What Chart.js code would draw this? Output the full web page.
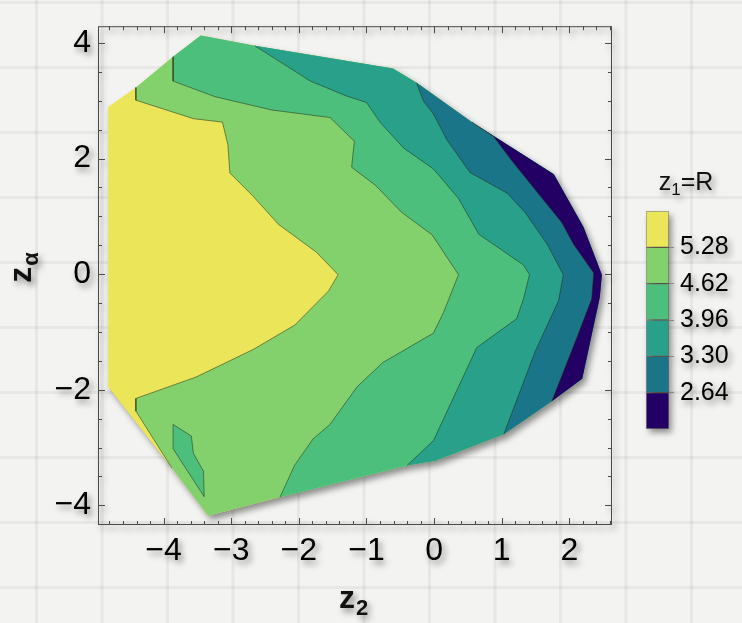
<!DOCTYPE html>
<html>
<head>
<meta charset="utf-8">
<title>z1 = R contour plot</title>
<script src="https://cdn.jsdelivr.net/npm/chart.js@4.4.1/dist/chart.umd.min.js"></script>
<style>
  html, body { margin: 0; padding: 0; }
  body {
    width: 742px;
    height: 623px;
    overflow: hidden;
    position: relative;
    background-color: #f3f3f1;
    background-image:
      linear-gradient(90deg, rgba(0,0,0,0.05) 3px, transparent 3px),
      linear-gradient(rgba(0,0,0,0.05) 3px, transparent 3px);
    background-size: 65.5px 65px;
    background-position: 35px 1px;
  }
  canvas {
    position: absolute;
    filter: drop-shadow(3px 4px 3px rgba(0,0,0,0.42));
  }
  #contour { left: 0; top: 0; }
  #colorbar { left: 620px; top: 150px; }
</style>
</head>
<body>
<canvas id="contour" width="742" height="623"></canvas>
<canvas id="colorbar" width="122" height="300"></canvas>
<script>
// Axis ranges and labelled ticks
const xRange = [-4.97, 2.63];
const yRange = [-4.34, 4.29];
const xTicks = [-4, -3, -2, -1, 0, 1, 2];
const yTicks = [-4, -2, 0, 2, 4];

// Contour levels of z1 = R, lowest first
const levels = [2.64, 3.30, 3.96, 4.62, 5.28];
// one colour per band, lowest band first (below 2.64 ... above 5.28)
const bandColors = ['#220064', '#1b7588', '#28a08a', '#4cbf7c', '#83d16d', '#ebe559'];

// Outline of the sampled region (z2, z_alpha), clockwise from upper left
const hull = [
  [-4.82, 2.89], [-4.41, 3.23], [-3.86, 3.76], [-3.45, 4.13], [-2.65, 3.95],
  [-0.61, 3.56], [-0.26, 3.31], [0.56, 2.63], [1.77, 1.73], [2.21, 0.81],
  [2.48, -0.01], [2.45, -0.40], [2.19, -1.81], [1.74, -2.20], [1.03, -2.77],
  [0.02, -3.23], [-0.40, -3.31], [-2.28, -3.86], [-3.34, -4.18], [-3.88, -3.35],
  [-4.82, -1.95]
];

// Contour lines, top to bottom (inner vertices only; ends sit on the hull)
const contour528 = [
  [-4.41, 3.01], [-3.56, 2.69], [-3.13, 2.63], [-3.05, 2.24], [-3.02, 1.75],
  [-2.67, 1.34], [-2.30, 0.86], [-1.74, 0.38], [-1.42, -0.01], [-1.56, -0.29],
  [-2.06, -0.88], [-2.67, -1.30], [-3.52, -1.78], [-4.41, -2.15], [-4.41, -2.37]
];
const contour462 = [
  [-3.86, 3.34], [-3.24, 3.07], [-2.40, 2.84], [-1.54, 2.71], [-1.18, 2.30],
  [-1.22, 1.85], [-0.87, 1.54], [-0.48, 1.07], [-0.03, 0.68], [0.36, -0.01],
  [0.14, -0.66], [-0.01, -1.02], [-0.76, -1.53], [-1.14, -1.95], [-1.54, -2.60],
  [-1.79, -2.85], [-2.06, -3.30]
];
const contour396 = [
  [-1.83, 3.34], [-1.29, 3.08], [-1.00, 2.97], [-0.80, 2.63], [-0.45, 2.18],
  [-0.01, 1.82], [0.36, 1.31], [0.66, 0.69], [1.32, 0.16], [1.41, -0.01],
  [1.32, -0.43], [1.22, -0.77], [0.63, -1.27], [-0.01, -2.88]
];
const contour330 = [
  [-0.16, 3.00], [-0.01, 2.77], [0.19, 2.32], [0.53, 1.76], [1.08, 1.40],
  [1.35, 1.06], [1.67, 0.52], [1.91, -0.01], [1.84, -0.46], [1.50, -1.32]
];
const contour264 = [
  [0.88, 2.38], [1.17, 1.93], [1.89, 0.89], [2.06, 0.52], [2.36, 0.02],
  [2.33, -0.43], [2.09, -1.16]
];
// small pocket of the 3.96-4.62 band inside the 4.62-5.28 band
const island462 = [
  [-3.86, -2.60], [-3.59, -2.80], [-3.56, -3.10], [-3.41, -3.41], [-3.40, -3.85], [-3.86, -3.02]
];

// hull index where each contour starts and ends
const ends528 = [1, 19];
const ends462 = [2, 17];
const ends396 = [4, 16];
const ends330 = [6, 14];
const ends264 = [7, 13];

const FONT = "'Liberation Sans', Arial, sans-serif";
Chart.defaults.font.family = FONT;

const pt = ([x, y]) => ({ x, y });

function contourLine(inner, [s, e]) {
  return [hull[s], ...inner, hull[e]].map(pt);
}

// everything on the right of a contour = the band at or below that level
function bandBelow(inner, [s, e]) {
  const ring = [hull[s], ...inner];
  for (let i = e; i > s; i--) ring.push(hull[i]);
  ring.push(hull[s]);
  return ring.map(pt);
}

const fillSet = (data, color, order) => ({
  data, backgroundColor: color, borderWidth: 0, fill: 'shape', order
});
const lineSet = (data) => ({
  data, borderColor: 'rgba(35,35,10,0.5)', borderWidth: 1, fill: false, order: 0
});

const fmt = v => (v < 0 ? '\u2212' + Math.abs(v) : String(v));

function subText(ctx, base, sub, x, y, size, weight) {
  const subSize = Math.round(size * 0.68);
  ctx.font = `${weight} ${size}px ${FONT}`;
  const w1 = ctx.measureText(base).width;
  ctx.font = `${weight} ${subSize}px ${FONT}`;
  const w2 = ctx.measureText(sub).width;
  const left = x - (w1 + w2) / 2;
  ctx.textAlign = 'left';
  ctx.textBaseline = 'alphabetic';
  ctx.font = `${weight} ${size}px ${FONT}`;
  ctx.fillText(base, left, y);
  ctx.font = `${weight} ${subSize}px ${FONT}`;
  ctx.fillText(sub, left + w1 + 1, y + size * 0.22);
}

// Mathematica style frame: inward ticks on all four sides, axis titles
const framePlugin = {
  id: 'frame',
  afterDraw(chart) {
    const { ctx, chartArea: a, scales: { x, y } } = chart;
    ctx.save();
    ctx.strokeStyle = '#4a4a4a';
    ctx.lineWidth = 1;
    ctx.strokeRect(a.left + 0.5, a.top + 0.5, a.width - 1, a.height - 1);

    ctx.beginPath();
    for (let i = Math.ceil(x.min * 5); i <= Math.floor(x.max * 5); i++) {
      const len = i % 5 === 0 ? 7 : 4;
      const px = Math.round(x.getPixelForValue(i / 5)) + 0.5;
      ctx.moveTo(px, a.bottom); ctx.lineTo(px, a.bottom - len);
      ctx.moveTo(px, a.top); ctx.lineTo(px, a.top + len);
    }
    for (let i = Math.ceil(y.min * 2); i <= Math.floor(y.max * 2); i++) {
      const len = i % 4 === 0 ? 7 : 4;
      const py = Math.round(y.getPixelForValue(i / 2)) + 0.5;
      ctx.moveTo(a.left, py); ctx.lineTo(a.left + len, py);
      ctx.moveTo(a.right, py); ctx.lineTo(a.right - len, py);
    }
    ctx.stroke();

    ctx.fillStyle = '#111';
    subText(ctx, 'z', '2', 353, 608, 32, 'bold');
    ctx.translate(31, 268);
    ctx.rotate(-Math.PI / 2);
    subText(ctx, 'z', '\u03b1', 0, 0, 32, 'bold');
    ctx.restore();
  }
};

new Chart(document.getElementById('contour'), {
  type: 'line',
  data: {
    datasets: [
      fillSet(hull.concat([hull[0]]).map(pt), bandColors[5], 10),
      fillSet(bandBelow(contour528, ends528), bandColors[4], 9),
      fillSet(bandBelow(contour462, ends462), bandColors[3], 8),
      fillSet(island462.concat([island462[0]]).map(pt), bandColors[3], 7),
      fillSet(bandBelow(contour396, ends396), bandColors[2], 6),
      fillSet(bandBelow(contour330, ends330), bandColors[1], 5),
      fillSet(bandBelow(contour264, ends264), bandColors[0], 4),
      lineSet(contourLine(contour528, ends528)),
      lineSet(contourLine(contour462, ends462)),
      lineSet(island462.concat([island462[0]]).map(pt)),
      lineSet(contourLine(contour396, ends396)),
      lineSet(contourLine(contour330, ends330)),
      lineSet(contourLine(contour264, ends264))
    ]
  },
  options: {
    responsive: false,
    animation: false,
    events: [],
    layout: { padding: { top: 13, right: 130, bottom: 0, left: 0 } },
    elements: { point: { radius: 0, hitRadius: 0 }, line: { tension: 0 } },
    plugins: { legend: { display: false }, tooltip: { enabled: false } },
    scales: {
      x: {
        type: 'linear',
        min: xRange[0],
        max: xRange[1],
        afterFit: s => { s.height = 98; },
        afterBuildTicks: s => { s.ticks = xTicks.map(v => ({ value: v })); },
        grid: { display: false, drawTicks: false },
        border: { display: false },
        ticks: { padding: 7, autoSkip: false, maxRotation: 0, color: '#000', font: { size: 32 }, callback: fmt }
      },
      y: {
        type: 'linear',
        min: yRange[0],
        max: yRange[1],
        afterFit: s => { s.width = 98; },
        afterBuildTicks: s => { s.ticks = yTicks.map(v => ({ value: v })); },
        grid: { display: false, drawTicks: false },
        border: { display: false },
        ticks: { padding: 7, autoSkip: false, color: '#000', font: { size: 32 }, callback: fmt }
      }
    }
  },
  plugins: [framePlugin]
});

// Colour bar legend
const barTitle = {
  id: 'barTitle',
  afterDraw(chart) {
    const { ctx } = chart;
    ctx.save();
    ctx.fillStyle = '#111';
    ctx.font = `25px ${FONT}`;
    const wz = ctx.measureText('z').width;
    ctx.font = `17px ${FONT}`;
    const w1 = ctx.measureText('1').width;
    ctx.font = `25px ${FONT}`;
    const wr = ctx.measureText('=R').width;
    const left = 66 - (wz + w1 + wr) / 2;
    ctx.textBaseline = 'alphabetic';
    ctx.fillText('z', left, 40);
    ctx.font = `17px ${FONT}`;
    ctx.fillText('1', left + wz, 45);
    ctx.font = `25px ${FONT}`;
    ctx.fillText('=R', left + wz + w1, 40);
    ctx.restore();
  }
};

new Chart(document.getElementById('colorbar'), {
  type: 'bar',
  data: {
    labels: [''],
    datasets: bandColors.map(c => ({
      data: [1],
      backgroundColor: c,
      borderColor: 'rgba(40,40,20,0.45)',
      borderWidth: 1,
      borderSkipped: false,
      barPercentage: 1,
      categoryPercentage: 1
    }))
  },
  options: {
    responsive: false,
    animation: false,
    events: [],
    layout: { padding: { top: 61, right: 0, bottom: 17, left: 26 } },
    plugins: { legend: { display: false }, tooltip: { enabled: false } },
    scales: {
      x: { display: false, stacked: true },
      y: {
        stacked: true,
        position: 'right',
        min: 0,
        max: levels.length + 1,
        afterFit: s => { s.width = 73; },
        afterBuildTicks: s => { s.ticks = levels.map((v, i) => ({ value: i + 1 })); },
        grid: { drawOnChartArea: false, drawTicks: true, tickLength: 5, color: '#888' },
        border: { display: false },
        ticks: {
          padding: 6,
          color: '#000',
          font: { size: 25 },
          callback: v => levels[v - 1].toFixed(2)
        }
      }
    }
  },
  plugins: [barTitle]
});
</script>
</body>
</html>
